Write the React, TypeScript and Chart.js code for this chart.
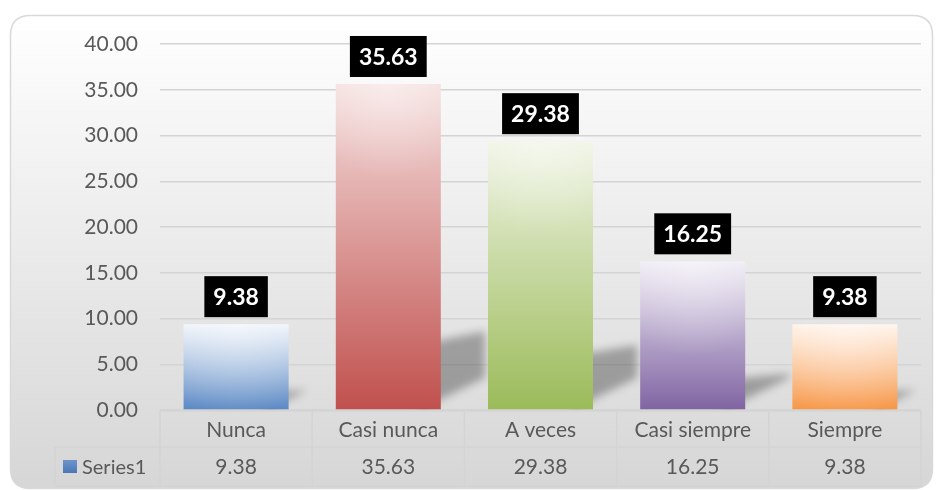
import React, { useEffect, useRef } from "react";
import { Chart, registerables } from "chart.js";

Chart.register(...registerables);

const categories = ["Nunca", "Casi nunca", "A veces", "Casi siempre", "Siempre"];
const values = [9.38, 35.63, 29.38, 16.25, 9.38];
const seriesName = "Series1";
const topColors = ["#eef3fa", "#f4dedd", "#eef3e2", "#eeeaf4", "#fff1e6"];
const bottomColors = ["#5a88c4", "#c0504d", "#9bbb59", "#8064a2", "#f79646"];
const yMin = 0;
const yMax = 40;
const yStep = 5;

const FONT = "Lato, 'Open Sans', sans-serif";
const TEXT = "#595959";
const LINE = "#d4d4d4";

function roundRect(ctx: CanvasRenderingContext2D, x: number, y: number, w: number, h: number, r: number) {
  ctx.beginPath();
  ctx.moveTo(x + r, y);
  ctx.lineTo(x + w - r, y);
  ctx.quadraticCurveTo(x + w, y, x + w, y + r);
  ctx.lineTo(x + w, y + h - r);
  ctx.quadraticCurveTo(x + w, y + h, x + w - r, y + h);
  ctx.lineTo(x + r, y + h);
  ctx.quadraticCurveTo(x, y + h, x, y + h - r);
  ctx.lineTo(x, y + r);
  ctx.quadraticCurveTo(x, y, x + r, y);
  ctx.closePath();
}

const bgPlugin = {
  id: "bgPlugin",
  beforeDraw(chart: any) {
    const ctx = chart.ctx as CanvasRenderingContext2D;
    ctx.save();
    ctx.fillStyle = "#ffffff";
    ctx.fillRect(0, 0, chart.width, chart.height);
    const g = ctx.createLinearGradient(0, 15, 0, 489);
    g.addColorStop(0, "#ffffff");
    g.addColorStop(1, "#d6d6d6");
    roundRect(ctx, 10.5, 15.5, 922, 473, 20);
    ctx.fillStyle = g;
    ctx.fill();
    ctx.strokeStyle = "#d9d9d9";
    ctx.lineWidth = 1.5;
    ctx.stroke();
    ctx.restore();
  },
};

const shadowPlugin = {
  id: "shadowPlugin",
  beforeDatasetsDraw(chart: any) {
    const ctx = chart.ctx as CanvasRenderingContext2D;
    const meta = chart.getDatasetMeta(0);
    const area = chart.chartArea;
    const OFF = 3000;
    ctx.save();
    ctx.beginPath();
    ctx.rect(area.left, area.top, area.right - area.left, area.bottom - area.top);
    ctx.clip();
    ctx.shadowColor = "rgba(0,0,0,0.3)";
    ctx.shadowBlur = 9;
    ctx.shadowOffsetX = OFF;
    ctx.shadowOffsetY = 0;
    ctx.fillStyle = "#000";
    meta.data.forEach((el: any) => {
      const W = el.width;
      const R = el.x + W / 2;
      const B = el.base;
      const H = B - el.y;
      const xl = R - 0.2 * W;
      const xr = R + 0.42 * W;
      const yBR = B - 0.3 * W;
      const yTL = B - 0.2 * H;
      const yTR = B - 0.24 * H;
      ctx.beginPath();
      if (yTR <= yBR) {
        ctx.moveTo(xl - OFF, B);
        ctx.lineTo(xr - OFF, yBR);
        ctx.lineTo(xr - OFF, yTR);
        ctx.lineTo(xl - OFF, yTL);
      } else {
        // top line meets the lower edge before xr: triangle
        // lower: y = B - t*(B - yBR); top: y = yTL + t*(yTR - yTL)
        const t = (B - yTL) / ((B - yBR) + (yTR - yTL));
        const xi = xl + t * (xr - xl);
        const yi = B - t * (B - yBR);
        ctx.moveTo(xl - OFF, B);
        ctx.lineTo(xi - OFF, yi);
        ctx.lineTo(xl - OFF, yTL);
      }
      ctx.closePath();
      ctx.fill();
    });
    ctx.restore();
  },
};

const labelPlugin = {
  id: "labelPlugin",
  afterDatasetsDraw(chart: any) {
    const ctx = chart.ctx as CanvasRenderingContext2D;
    const meta = chart.getDatasetMeta(0);
    ctx.save();
    meta.data.forEach((el: any) => {
      const W = el.width;
      const L = el.x - W / 2;
      const H = el.base - el.y;
      const rg = ctx.createRadialGradient(el.x, el.y, 0, el.x, el.y, Math.max(W * 0.9, 10));
      rg.addColorStop(0, "rgba(255,255,255,0.45)");
      rg.addColorStop(1, "rgba(255,255,255,0)");
      ctx.fillStyle = rg;
      ctx.fillRect(L, el.y, W, H);
    });
    ctx.font = `bold 23px ${FONT}`;
    ctx.textAlign = "center";
    ctx.textBaseline = "middle";
    meta.data.forEach((el: any, i: number) => {
      const txt = values[i].toFixed(2);
      const w = ctx.measureText(txt).width + 18;
      const h = 41;
      const bottom = el.y - 7;
      ctx.fillStyle = "#000000";
      ctx.fillRect(el.x - w / 2, bottom - h, w, h);
      ctx.fillStyle = "#ffffff";
      ctx.fillText(txt, el.x, bottom - h / 2 + 1);
    });
    ctx.restore();
  },
};

const tablePlugin = {
  id: "tablePlugin",
  afterDraw(chart: any) {
    const ctx = chart.ctx as CanvasRenderingContext2D;
    const xs = chart.scales.x;
    const area = chart.chartArea;
    const colW = (area.right - area.left) / categories.length;
    const top = area.bottom + 1;
    const mid = 447;
    const bot = 486;
    const leftCell = 55;
    ctx.save();
    ctx.strokeStyle = LINE;
    ctx.lineWidth = 1.5;
    ctx.beginPath();
    ctx.moveTo(area.left, top);
    ctx.lineTo(area.right, top);
    ctx.moveTo(leftCell, mid);
    ctx.lineTo(area.right, mid);
    ctx.moveTo(leftCell, bot);
    ctx.lineTo(area.right, bot);
    ctx.moveTo(leftCell, mid);
    ctx.lineTo(leftCell, bot);
    for (let i = 0; i <= categories.length; i++) {
      const x = area.left + i * colW;
      ctx.moveTo(x, top);
      ctx.lineTo(x, bot);
    }
    ctx.stroke();

    ctx.fillStyle = TEXT;
    ctx.font = `21px ${FONT}`;
    ctx.textAlign = "center";
    ctx.textBaseline = "middle";
    categories.forEach((c, i) => {
      const x = xs.getPixelForValue(i);
      ctx.fillText(c, x, (top + mid) / 2 + 1);
      ctx.fillText(values[i].toFixed(2), x, (mid + bot) / 2 + 1);
    });
    const lg = ctx.createLinearGradient(0, 460, 0, 473);
    lg.addColorStop(0, "#6d95cc");
    lg.addColorStop(1, "#4a78b5");
    ctx.fillStyle = lg;
    ctx.fillRect(63, 460, 14, 13);
    ctx.fillStyle = TEXT;
    ctx.textAlign = "left";
    ctx.font = `20px ${FONT}`;
    ctx.fillText(seriesName, 82, (mid + bot) / 2 + 1);
    ctx.restore();
  },
};

export default function App() {
  const ref = useRef<HTMLCanvasElement | null>(null);
  useEffect(() => {
    if (!ref.current) return;
    const chart = new Chart(ref.current, {
      type: "bar",
      data: {
        labels: categories,
        datasets: [
          {
            label: seriesName,
            data: values,
            backgroundColor: (c: any) => {
              const ch = c.chart;
              const i = c.dataIndex;
              if (i === undefined || i === null) return bottomColors[0];
              const y = ch.scales?.y;
              if (!y) return bottomColors[i];
              const top = y.getPixelForValue(values[i]);
              const base = y.getPixelForValue(0);
              if (!isFinite(top) || !isFinite(base) || top === base) return bottomColors[i];
              const g = ch.ctx.createLinearGradient(0, top, 0, base);
              g.addColorStop(0, topColors[i]);
              g.addColorStop(1, bottomColors[i]);
              return g;
            },
            borderWidth: 0,
            barPercentage: 0.69,
            categoryPercentage: 1,
          },
        ],
      },
      options: {
        responsive: false,
        animation: false,
        layout: { padding: { left: 0, top: 44, right: 15, bottom: 80 } },
        plugins: {
          legend: { display: false },
          tooltip: { enabled: false },
        },
        scales: {
          x: { display: false, offset: true },
          y: {
            min: yMin,
            max: yMax,
            afterFit: (s: any) => {
              s.width = 160;
            },
            ticks: {
              stepSize: yStep,
              padding: 22,
              color: TEXT,
              font: { family: FONT, size: 21 },
              callback: (v: any) => Number(v).toFixed(2),
            },
            grid: { color: LINE, lineWidth: 1.5, drawTicks: false },
            border: { display: false },
          },
        },
      },
      plugins: [bgPlugin, shadowPlugin, labelPlugin, tablePlugin],
    });
    return () => chart.destroy();
  }, []);
  return (
    <div style={{ position: "fixed", left: 0, top: 0, width: 936, height: 490 }}>
      <canvas ref={ref} width={936} height={490} style={{ display: "block" }} />
    </div>
  );
}
